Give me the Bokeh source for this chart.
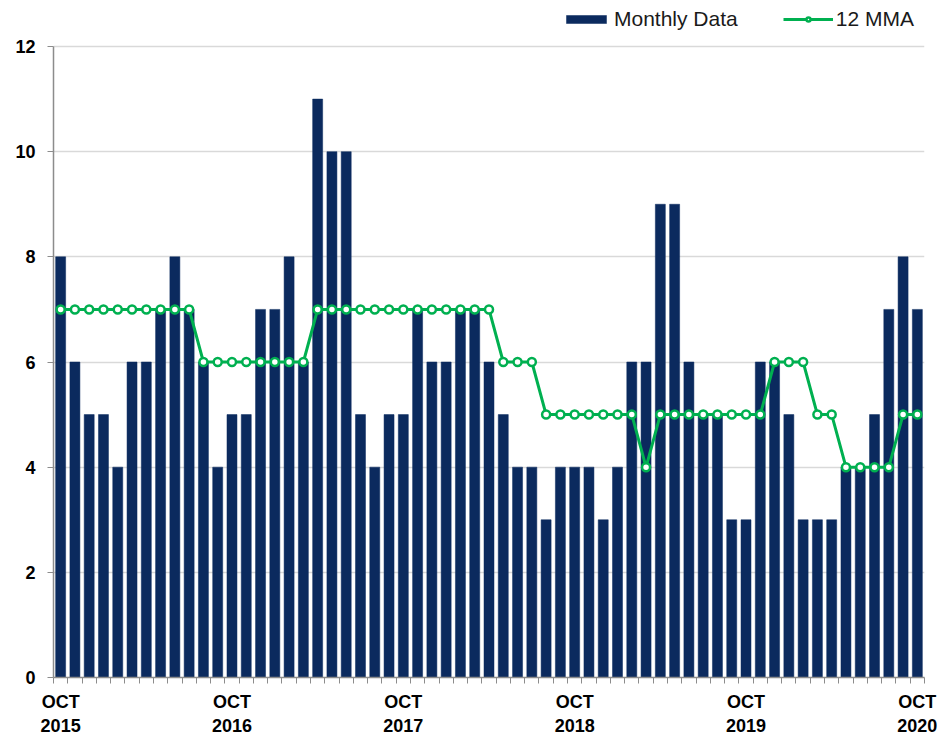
from bokeh.plotting import figure
from bokeh.models import FixedTicker, Legend, LegendItem, ColumnDataSource
from bokeh.embed import file_html
from bokeh.resources import INLINE

# Oct 2015 .. Oct 2020 (61 months)
monthly = [8, 6, 5, 5, 4, 6, 6, 7, 8, 7, 6, 4,
           5, 5, 7, 7, 8, 6, 11, 10, 10, 5, 4, 5,
           5, 7, 6, 6, 7, 7, 6, 5, 4, 4, 3, 4,
           4, 4, 3, 4, 6, 6, 9, 9, 6, 5, 5, 3,
           3, 6, 6, 5, 3, 3, 3, 4, 4, 5, 7, 8,
           7]
mma12 = [7, 7, 7, 7, 7, 7, 7, 7, 7, 7, 6, 6,
         6, 6, 6, 6, 6, 6, 7, 7, 7, 7, 7, 7,
         7, 7, 7, 7, 7, 7, 7, 6, 6, 6, 5, 5,
         5, 5, 5, 5, 5, 4, 5, 5, 5, 5, 5, 5,
         5, 5, 6, 6, 6, 5, 5, 4, 4, 4, 4, 5,
         5]
tick_positions = [0, 12, 24, 36, 48, 60]
tick_labels = ["OCT\n2015", "OCT\n2016", "OCT\n2017", "OCT\n2018", "OCT\n2019", "OCT\n2020"]
y_ticks = [0, 2, 4, 6, 8, 10, 12]
Y_MAX = 12

NAVY = "#0B2A5E"
GREEN = "#00B050"
FONT = "Liberation Sans"

W, H = 943, 740
BL, BR, BT, BB = 53, 19, 0, 63
frame_h = H - BT - BB
axis_px = 631  # pixels from 0 to Y_MAX
y_end = Y_MAX * frame_h / axis_px

idx = list(range(len(monthly)))
src = ColumnDataSource(dict(x=idx, monthly=monthly, mma=mma12))

p = figure(width=W, height=H, x_range=(-0.5, len(monthly) - 0.5), y_range=(0, y_end),
           output_backend="svg", toolbar_location=None,
           min_border_left=BL, min_border_right=BR, min_border_top=BT, min_border_bottom=BB)
p.outline_line_color = None
p.background_fill_color = "white"

bars = p.vbar(x="x", top="monthly", width=0.7, source=src, fill_color=NAVY,
              line_color=NAVY, line_width=0.5)
ln = p.line(x="x", y="mma", source=src, line_color=GREEN, line_width=3)
sc = p.scatter(x="x", y="mma", source=src, size=8, fill_color="white",
               line_color=GREEN, line_width=2.5)

# x axis
p.xaxis.ticker = FixedTicker(ticks=tick_positions,
                             minor_ticks=[i - 0.5 for i in range(len(monthly) + 1)])
p.xaxis.major_label_overrides = {t: l for t, l in zip(tick_positions, tick_labels)}
p.xaxis.major_tick_line_color = None
p.xaxis.minor_tick_out = 6
p.xaxis.minor_tick_in = 0
p.xaxis.minor_tick_line_color = "#8c8c8c"
p.xaxis.axis_line_color = "#8c8c8c"
p.xaxis.axis_line_width = 1.5
p.xaxis.major_label_text_font = FONT
p.xaxis.major_label_text_font_style = "bold"
p.xaxis.major_label_text_font_size = "18px"
p.xaxis.major_label_text_color = "black"
p.xaxis.major_label_standoff = 8
p.xgrid.grid_line_color = None

# y axis
p.yaxis.ticker = FixedTicker(ticks=y_ticks)
p.yaxis.bounds = (0, Y_MAX)
p.yaxis.minor_tick_line_color = None
p.yaxis.major_tick_out = 6
p.yaxis.major_tick_in = 0
p.yaxis.major_tick_line_color = "#8c8c8c"
p.yaxis.axis_line_color = "#8c8c8c"
p.yaxis.axis_line_width = 1.5
p.yaxis.major_label_text_font = FONT
p.yaxis.major_label_text_font_style = "bold"
p.yaxis.major_label_text_font_size = "18px"
p.yaxis.major_label_text_color = "black"
p.yaxis.major_label_standoff = 12
p.ygrid.grid_line_color = "#d9d9d9"
p.ygrid.grid_line_width = 1.5

legend = Legend(items=[LegendItem(label="Monthly Data", renderers=[bars]),
                       LegendItem(label="12 MMA", renderers=[ln, sc])],
                orientation="horizontal", location=(508, frame_h - 31),
                glyph_width=50, glyph_height=10, label_standoff=3, spacing=45,
                padding=2, margin=0, border_line_color=None,
                label_text_font=FONT, label_text_font_size="21px",
                label_text_color="#1a1a1a",
                background_fill_alpha=0)
p.add_layout(legend)

open("out.html", "w").write(file_html(p, INLINE))
